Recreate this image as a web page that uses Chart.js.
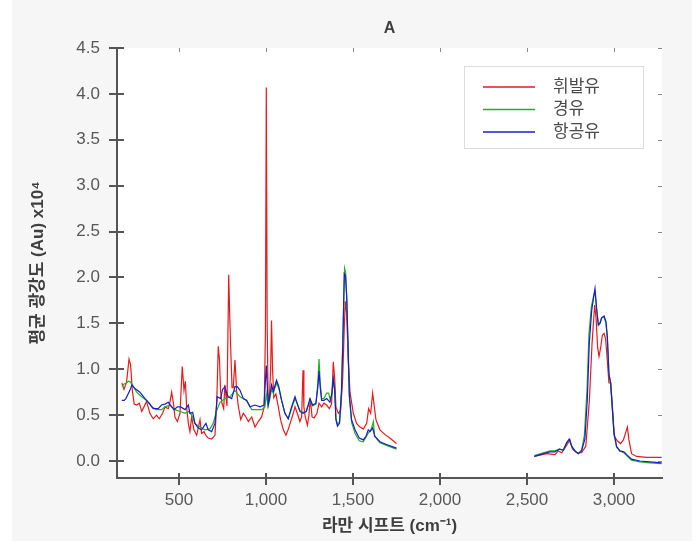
<!DOCTYPE html>
<html><head><meta charset="utf-8">
<script src="https://cdn.jsdelivr.net/npm/chart.js@4.4.1/dist/chart.umd.min.js"></script>
<style>
html,body{margin:0;padding:0;background:#fff;}
#panel{position:absolute;left:12px;top:0;width:680px;height:541px;background:#f6f6f6;}
#c{position:absolute;left:0;top:0;}
</style></head><body>
<div id="panel"></div>
<canvas id="c" width="698" height="544"></canvas>
<script>
// ---- data (Raman shift cm-1, mean intensity x10^4) ----
const seriesNames = ['휘발유', '경유', '항공유'];
const seriesColors = ['#e81a1a', '#1fb31f', '#1c1ccc'];
const xTickValues = [500, 1000, 1500, 2000, 2500, 3000];
const yTickValues = [0, 0.5, 1.0, 1.5, 2.0, 2.5, 3.0, 3.5, 4.0, 4.5];

// gasoline (휘발유) – fingerprint region
const gasolineShiftLow = [172,184,199,213,222,232,243,257,272,286,299,314,333,352,371,387,406,420,439,448,458,468,477,491,506,519,529,537,544,554,563,573,586,602,621,630,644,655,668,688,707,717,726,733,739,747,757,764,776,786,792,797,805,812,822,831,841,855,870,885,899,918,937,956,975,990,997,1002,1007,1012,1019,1027,1032,1038,1045,1057,1071,1084,1100,1115,1129,1142,1157,1167,1180,1195,1205,1213,1218,1226,1238,1247,1255,1265,1277,1293,1305,1320,1333,1349,1364,1377,1387,1395,1402,1416,1429,1441,1450,1456,1464,1473,1483,1502,1521,1540,1560,1579,1590,1602,1613,1621,1632,1655,1683,1712,1750];
const gasolineIntLow = [0.85,0.78,0.86,1.11,1.05,0.77,0.62,0.61,0.63,0.54,0.59,0.65,0.52,0.46,0.50,0.46,0.52,0.59,0.57,0.64,0.75,0.63,0.48,0.43,0.52,1.03,0.77,0.87,0.59,0.41,0.32,0.48,0.34,0.28,0.45,0.30,0.32,0.28,0.25,0.24,0.28,0.63,1.25,1.10,0.77,0.63,0.57,0.83,0.60,2.03,1.57,1.25,0.80,0.80,1.10,0.77,0.60,0.45,0.52,0.48,0.43,0.48,0.37,0.43,0.48,0.59,1.40,4.07,1.50,0.74,0.65,1.00,1.53,1.00,0.69,0.73,0.59,0.45,0.34,0.28,0.35,0.43,0.52,0.59,0.52,0.43,0.48,0.99,0.59,0.48,0.39,0.50,0.68,0.48,0.47,0.52,0.63,0.59,0.63,0.61,0.57,0.62,1.08,0.90,0.59,0.52,0.55,0.90,1.45,1.74,1.60,1.10,0.75,0.52,0.41,0.37,0.35,0.41,0.57,0.52,0.74,0.62,0.45,0.34,0.29,0.25,0.19];
// gasoline – C-H stretch region
const gasolineShiftHigh = [2542,2613,2661,2680,2700,2724,2747,2762,2785,2814,2838,2858,2874,2889,2897,2906,2914,2924,2933,2943,2952,2962,2971,2981,2991,3002,3019,3038,3054,3069,3077,3086,3101,3130,3188,3274];
const gasolineIntHigh = [0.05,0.08,0.07,0.11,0.09,0.16,0.23,0.13,0.09,0.09,0.16,0.64,1.28,1.70,1.56,1.24,1.14,1.24,1.37,1.39,1.33,1.09,0.85,0.85,0.60,0.27,0.22,0.19,0.23,0.32,0.37,0.23,0.08,0.05,0.04,0.04];

// diesel (경유)
const dieselShiftLow = [172,185,199,210,222,238,257,286,314,343,371,400,420,448,477,506,535,554,573,592,621,649,678,697,717,736,764,793,822,851,889,918,946,975,994,1002,1012,1023,1032,1042,1061,1074,1090,1109,1128,1147,1167,1180,1195,1213,1232,1253,1268,1287,1298,1305,1312,1320,1333,1349,1360,1368,1379,1387,1395,1402,1411,1423,1434,1442,1452,1458,1464,1472,1479,1492,1512,1536,1559,1575,1590,1602,1613,1617,1625,1655,1693,1750];
const dieselIntLow = [0.81,0.84,0.85,0.87,0.86,0.81,0.75,0.70,0.66,0.59,0.56,0.56,0.59,0.61,0.56,0.54,0.52,0.54,0.50,0.41,0.37,0.34,0.35,0.41,0.55,0.64,0.68,0.70,0.77,0.70,0.66,0.56,0.56,0.56,0.59,0.73,0.60,0.68,0.78,0.74,0.85,0.79,0.66,0.52,0.46,0.57,0.68,0.63,0.55,0.53,0.54,0.66,0.60,0.62,0.85,1.11,0.85,0.68,0.68,0.74,0.74,0.68,0.72,0.88,0.76,0.47,0.40,0.43,0.78,1.35,2.10,2.05,1.78,1.20,0.70,0.42,0.30,0.22,0.21,0.26,0.31,0.33,0.40,0.43,0.27,0.20,0.17,0.13];
const dieselShiftHigh = [2542,2594,2632,2661,2686,2709,2728,2743,2757,2776,2795,2814,2830,2845,2856,2870,2883,2891,2900,2910,2920,2929,2943,2954,2962,2971,2981,2991,3000,3015,3034,3057,3073,3101,3149,3207,3274];
const dieselIntHigh = [0.06,0.09,0.11,0.11,0.13,0.12,0.19,0.23,0.16,0.11,0.08,0.12,0.28,0.78,1.38,1.68,1.80,1.84,1.65,1.49,1.51,1.56,1.57,1.50,1.33,0.95,0.84,0.55,0.30,0.15,0.11,0.09,0.06,0.01,-0.01,-0.02,-0.03];

// jet fuel (항공유)
const jetShiftLow = [172,185,195,218,230,247,276,305,329,352,381,400,420,439,458,472,491,510,535,554,563,579,592,611,630,655,668,688,707,720,739,751,764,774,783,803,822,835,851,870,889,908,937,966,989,1002,1013,1023,1032,1042,1061,1074,1090,1109,1128,1147,1167,1180,1195,1213,1232,1253,1268,1287,1298,1305,1312,1320,1333,1349,1368,1379,1387,1395,1402,1411,1423,1434,1442,1450,1457,1464,1472,1479,1492,1512,1536,1559,1575,1588,1598,1613,1625,1655,1693,1750];
const jetIntLow = [0.66,0.66,0.68,0.77,0.83,0.79,0.75,0.68,0.63,0.57,0.57,0.61,0.62,0.64,0.59,0.56,0.59,0.59,0.56,0.61,0.52,0.53,0.41,0.36,0.34,0.41,0.34,0.32,0.41,0.70,0.68,0.78,0.81,0.74,0.70,0.68,0.81,0.81,0.77,0.68,0.66,0.59,0.61,0.59,0.61,1.04,0.61,0.72,0.83,0.76,0.88,0.81,0.66,0.52,0.46,0.59,0.70,0.62,0.54,0.52,0.54,0.68,0.61,0.63,0.80,0.98,0.80,0.66,0.66,0.68,0.64,0.74,0.90,0.78,0.45,0.38,0.41,0.74,1.29,2.04,2.02,1.80,1.26,0.73,0.45,0.34,0.25,0.23,0.27,0.34,0.32,0.36,0.27,0.21,0.18,0.14];
const jetShiftHigh = [2542,2594,2632,2661,2686,2709,2728,2743,2757,2776,2795,2814,2833,2847,2858,2872,2885,2891,2900,2910,2920,2929,2943,2954,2962,2971,2981,2991,3000,3015,3034,3057,3073,3101,3149,3207,3274];
const jetIntHigh = [0.05,0.08,0.10,0.10,0.13,0.12,0.20,0.24,0.16,0.11,0.08,0.11,0.24,0.68,1.28,1.64,1.81,1.88,1.67,1.48,1.50,1.56,1.58,1.52,1.35,0.95,0.85,0.56,0.31,0.16,0.11,0.10,0.07,0.02,0.00,-0.01,-0.02];

const GAP_X = 2100; // no measurement between the two spectral windows

function pts(xsLow, ysLow, xsHigh, ysHigh) {
  const a = xsLow.map((x, i) => ({x, y: ysLow[i]}));
  a.push({x: GAP_X, y: null});
  return a.concat(xsHigh.map((x, i) => ({x, y: ysHigh[i]})));
}

const FONT = "'Liberation Sans', 'Noto Sans CJK KR', Arial, sans-serif";
Chart.defaults.font.family = FONT;

const plotBg = {
  id: 'plotBg',
  beforeDraw(chart) {
    const {ctx, chartArea: a} = chart;
    ctx.save();
    ctx.fillStyle = '#ffffff';
    ctx.fillRect(a.left, a.top, a.right - a.left, a.bottom - a.top);
    ctx.restore();
  }
};

const tickMarks = {
  id: 'tickMarks',
  afterDraw(chart) {
    const {ctx, chartArea: a, scales} = chart;
    ctx.save();
    ctx.strokeStyle = '#555';
    ctx.lineWidth = 2;
    yTickValues.forEach(v => {
      const p = Math.round(scales.y.getPixelForValue(v));
      ctx.beginPath(); ctx.moveTo(a.left - 8, p); ctx.lineTo(a.left + 7, p); ctx.stroke();
    });
    xTickValues.forEach(v => {
      const p = Math.round(scales.x.getPixelForValue(v));
      ctx.beginPath(); ctx.moveTo(p, a.bottom - 5); ctx.lineTo(p, a.bottom + 7); ctx.stroke();
    });
    ctx.strokeStyle = '#8a8a8a';
    ctx.lineWidth = 1;
    xTickValues.forEach(v => {
      const p = Math.round(scales.x.getPixelForValue(v)) + 0.5;
      ctx.beginPath(); ctx.moveTo(p, a.top); ctx.lineTo(p, a.top + 4); ctx.stroke();
    });
    yTickValues.forEach(v => {
      const p = Math.round(scales.y.getPixelForValue(v)) + 0.5;
      ctx.beginPath(); ctx.moveTo(a.right - 4, p); ctx.lineTo(a.right, p); ctx.stroke();
    });
    ctx.restore();
  }
};

const boxLegend = {
  id: 'boxLegend',
  afterDraw(chart) {
    const {ctx, chartArea: a} = chart;
    const bx = a.right - 198, by = a.top + 18, bw = 179, bh = 82;
    ctx.save();
    ctx.fillStyle = '#ffffff';
    ctx.fillRect(bx, by, bw, bh);
    ctx.strokeStyle = '#dcdcdc';
    ctx.lineWidth = 1;
    ctx.strokeRect(bx + 0.5, by + 0.5, bw, bh);
    ctx.font = '17px ' + FONT;
    ctx.textBaseline = 'middle';
    ctx.textAlign = 'left';
    chart.data.datasets.forEach((ds, i) => {
      const yy = by + 21 + i * 22.5;
      ctx.strokeStyle = ds.borderColor;
      ctx.lineWidth = 1.3;
      ctx.beginPath(); ctx.moveTo(bx + 19, yy); ctx.lineTo(bx + 71, yy); ctx.stroke();
      ctx.fillStyle = '#4a4a4a';
      ctx.fillText(ds.label, bx + 89, yy);
    });
    ctx.restore();
  }
};

const datasets = [
  {label: seriesNames[0], data: pts(gasolineShiftLow, gasolineIntLow, gasolineShiftHigh, gasolineIntHigh), borderColor: seriesColors[0], order: 2},
  {label: seriesNames[1], data: pts(dieselShiftLow, dieselIntLow, dieselShiftHigh, dieselIntHigh), borderColor: seriesColors[1], order: 1},
  {label: seriesNames[2], data: pts(jetShiftLow, jetIntLow, jetShiftHigh, jetIntHigh), borderColor: seriesColors[2], order: 0}
].map(d => Object.assign(d, {borderWidth: 1.2, pointRadius: 0, tension: 0, fill: false, spanGaps: false}));

new Chart(document.getElementById('c'), {
  type: 'line',
  data: {datasets},
  options: {
    responsive: false,
    animation: false,
    layout: {padding: {left: 0, right: 36, top: 0, bottom: 0}},
    plugins: {
      legend: {display: false},
      tooltip: {enabled: false},
      title: {
        display: true, text: 'A', fullSize: false, color: '#3f3f3f',
        font: {size: 16, weight: 'bold'}, padding: {top: 19, bottom: 9.8}
      }
    },
    scales: {
      x: {
        type: 'linear', min: 144, max: 3276,
        afterBuildTicks: s => { s.ticks = xTickValues.map(v => ({value: v})); },
        afterFit: s => { s.height = 66; },
        grid: {drawOnChartArea: false, drawTicks: false},
        border: {display: true, color: '#555', width: 2},
        ticks: {color: '#585858', font: {size: 17}, padding: 12, maxRotation: 0,
          callback: v => Number(v).toLocaleString('en-US')},
        title: {display: true, text: '라만 시프트 (cm⁻¹)', color: '#3f3f3f',
          font: {size: 17, weight: 'bold'}, padding: {top: 0, bottom: 7}}
      },
      y: {
        type: 'linear', min: -0.185, max: 4.5,
        afterBuildTicks: s => { s.ticks = yTickValues.map(v => ({value: v})); },
        afterFit: s => { s.width = 117; },
        grid: {drawOnChartArea: false, drawTicks: false},
        border: {display: true, color: '#555', width: 2},
        ticks: {color: '#585858', font: {size: 17}, padding: 17,
          callback: v => Number(v).toFixed(1)},
        title: {display: true, text: '평균 광강도 (Au) x10⁴', color: '#3f3f3f',
          font: {size: 17, weight: 'bold'}, padding: {top: 28, bottom: 0}}
      }
    }
  },
  plugins: [plotBg, tickMarks, boxLegend]
});
</script>
</body></html>
